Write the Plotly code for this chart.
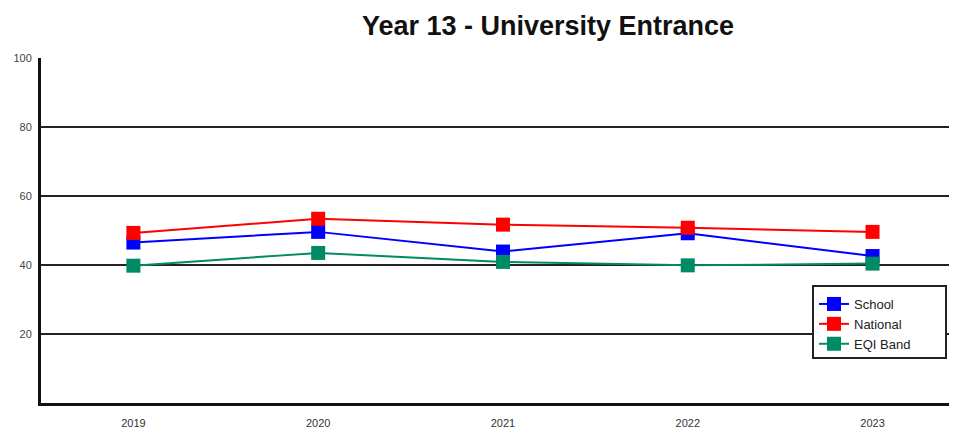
import plotly.graph_objects as go

years = ["2019", "2020", "2021", "2022", "2023"]
school = [46.5, 49.6, 43.9, 49.2, 42.6]
national = [49.3, 53.4, 51.7, 50.8, 49.6]
eqi_band = [39.8, 43.5, 40.9, 39.9, 40.4]
y_ticks = [20, 40, 60, 80, 100]

series = [
    ("School", school, "#0000ff"),
    ("National", national, "#ff0000"),
    ("EQI Band", eqi_band, "#008b67"),
]

fig = go.Figure()
for name, vals, col in series:
    fig.add_trace(go.Scatter(
        x=list(range(len(years))), y=vals, name=name, mode="lines+markers",
        line=dict(color=col, width=2),
        marker=dict(symbol="square", size=14, color=col),
    ))

W, H = 949, 420
L, T, B = 33, 50, 25
plot_w = W - L
plot_h = H - T - B

def px_x(p):
    return (p - L) / plot_w

def px_y(p):
    return (H - B - p) / plot_h

# legend frame
fig.add_shape(type="rect", xref="paper", yref="paper",
              x0=px_x(805), x1=px_x(938), y0=px_y(350), y1=px_y(278),
              line=dict(color="#222222", width=2), fillcolor="white", layer="above")

fig.update_layout(
    width=W, height=H,
    margin=dict(l=L, r=0, t=T, b=B),
    paper_bgcolor="white", plot_bgcolor="white",
    font=dict(family="Liberation Sans, Arial, sans-serif", color="#333333"),
    title=dict(text="<b>Year 13 - University Entrance</b>", x=540 / W, xanchor="center",
               y=1 - 18 / H, yanchor="middle",
               font=dict(size=27, color="#111111", family="Liberation Sans, Arial, sans-serif")),
    xaxis=dict(
        range=[-0.5, 4.457], tickmode="array", tickvals=list(range(len(years))),
        ticktext=years, showgrid=False, zeroline=False,
        showline=True, linecolor="#111111", linewidth=3,
        ticks="outside", ticklen=8, tickcolor="rgba(0,0,0,0)",
        tickfont=dict(size=11, color="#333333"),
    ),
    yaxis=dict(
        range=[0, 100], tickmode="array", tickvals=y_ticks,
        showgrid=True, gridcolor="#222222", gridwidth=2, zeroline=False,
        showline=True, linecolor="#111111", linewidth=3,
        ticks="outside", ticklen=4, tickcolor="rgba(0,0,0,0)",
        tickfont=dict(size=11, color="#444444"),
    ),
    legend=dict(
        x=px_x(806), y=px_y(281), xanchor="left", yanchor="top",
        bgcolor="rgba(0,0,0,0)", borderwidth=0,
        font=dict(size=13, color="#222222"), itemwidth=30,
        tracegroupgap=0,
    ),
    showlegend=True,
)

fig.write_html("out.html")
